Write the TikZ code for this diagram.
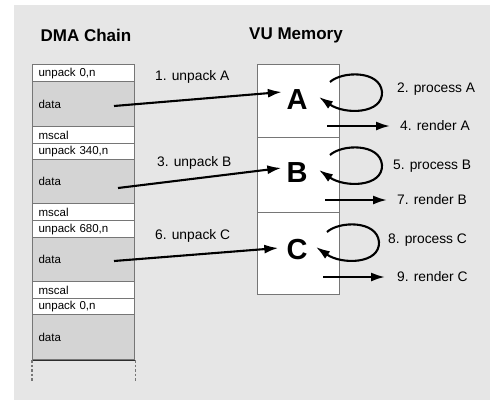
\documentclass[tikz,border=0pt]{standalone}
\usepackage{fontspec}
\setmainfont{Liberation Sans}
\usetikzlibrary{arrows.meta}
\definecolor{bgc}{RGB}{230,230,230}
\definecolor{datafill}{RGB}{212,212,212}
\definecolor{edgec}{RGB}{118,118,118}
\definecolor{darkedge}{RGB}{45,45,45}
\tikzset{
  cell/.style={draw=edgec, line width=1.2pt, anchor=north west, minimum width=102pt,
    text width=90pt, inner xsep=6pt, inner ysep=0pt, align=left,
    font=\fontsize{11.5}{12}\selectfont},
  hdr/.style={cell, fill=white},
  dat/.style={cell, fill=datafill},
  vubox/.style={draw=edgec, line width=1.2pt, fill=white, anchor=north west, minimum width=82pt, inner sep=0pt},
  letter/.style={inner sep=0pt, font=\fontsize{29}{30}\selectfont\bfseries},
  title/.style={inner sep=0pt, font=\fontsize{17}{18}\selectfont\bfseries},
  lbl/.style={inner sep=0pt, anchor=west, font=\fontsize{13.8}{15}\selectfont},
  arr/.style={line width=2.1pt, -{Latex[length=14pt,width=9pt]}},
  dots/.style={edgec, line width=1.4pt, dash pattern=on 2.5pt off 2pt}
}
\begin{document}
\begin{tikzpicture}[x=1pt,y=-1pt]
\useasboundingbox (0,0) rectangle (490,400);
\fill[white] (0,0) rectangle (490,400);
\fill[bgc] (14,5) rectangle (490,400);

% titles
\node[title] (t1) at (86,35) {DMA Chain};
\node[title] (t2) at (296,35) {VU Memory};

% DMA chain
\node[hdr, minimum height=17pt] (r1) at (32,64) {unpack 0,n};
\node[dat, minimum height=45pt] (d1) at (32,81) {data};
\node[hdr, minimum height=17pt] (m1) at (32,126) {mscal};
\node[hdr, minimum height=16pt] (r2) at (32,143) {unpack 340,n};
\node[dat, minimum height=44pt] (d2) at (32,159) {data};
\node[hdr, minimum height=17pt] (m2) at (32,203) {mscal};
\node[hdr, minimum height=17pt] (r3) at (32,220) {unpack 680,n};
\node[dat, minimum height=44pt] (d3) at (32,237) {data};
\node[hdr, minimum height=17pt] (m3) at (32,281) {mscal};
\node[hdr, minimum height=16pt] (r4) at (32,298) {unpack 0,n};
\node[dat, minimum height=45pt] (d4) at (32,314) {data};
\draw[darkedge, line width=1.4pt] (d4.south west) -- (d4.south east);
\draw[dots] (d4.south west) -- ++(0,21);
\draw[dots] (d4.south east) -- ++(0,21);

% VU memory
\node[vubox, minimum height=73pt] (vA) at (257,64) {};
\node[vubox, minimum height=75pt] (vB) at (257,137) {};
\node[vubox, minimum height=82pt] (vC) at (257,212) {};
\node[letter] (A) at (297,100) {A};
\node[letter] (B) at (297,173) {B};
\node[letter] (C) at (297,250) {C};

% unpack arrows
\coordinate (s1) at (114,106);
\coordinate (s2) at (118,188);
\coordinate (s3) at (114,261);
\draw[arr] (s1) -- ([xshift=-4.5pt,yshift=8pt]A.west);
\draw[arr] (s2) -- ([xshift=-5pt,yshift=5pt]B.west);
\draw[arr] (s3) -- ([xshift=-8pt,yshift=2pt]C.west);
\node[lbl] (u1) at (155,77) {1. unpack A};
\node[lbl] (u2) at (157,163) {3. unpack B};
\node[lbl] (u3) at (155,236) {6. unpack C};

% process loops
\begin{scope}[shift={(A.center)}]
\draw[arr] (33,-18) .. controls (45,-29) and (83,-30) .. (85,-8) .. controls (86,14) and (48,15) .. (22,-3);
\end{scope}
\begin{scope}[shift={(B.center)}]
\draw[arr] (33,-18) .. controls (45,-29) and (83,-30) .. (85,-8) .. controls (86,14) and (48,15) .. (22,-3);
\end{scope}
\begin{scope}[shift={(C.center)}]
\draw[arr] (30,-18) .. controls (42,-29) and (80,-30) .. (82,-8) .. controls (83,14) and (45,15) .. (19,-3);
\end{scope}
\node[lbl] (pA) at (397,89) {2. process A};
\node[lbl] (pB) at (393,166) {5. process B};
\node[lbl] (pC) at (388,240) {8. process C};

% render arrows
\node[lbl] (lA) at (400,126) {4. render A};
\node[lbl] (lB) at (397,200) {7. render B};
\node[lbl] (lC) at (397,277) {9. render C};
\coordinate (rA) at (327,126);
\coordinate (rB) at (325,200);
\coordinate (rC) at (323,277);
\draw[arr, shorten >=10pt] (rA) -- (lA.west);
\draw[arr, shorten >=10pt] (rB) -- (lB.west);
\draw[arr, shorten >=12pt] (rC) -- (lC.west);
\end{tikzpicture}
\end{document}
